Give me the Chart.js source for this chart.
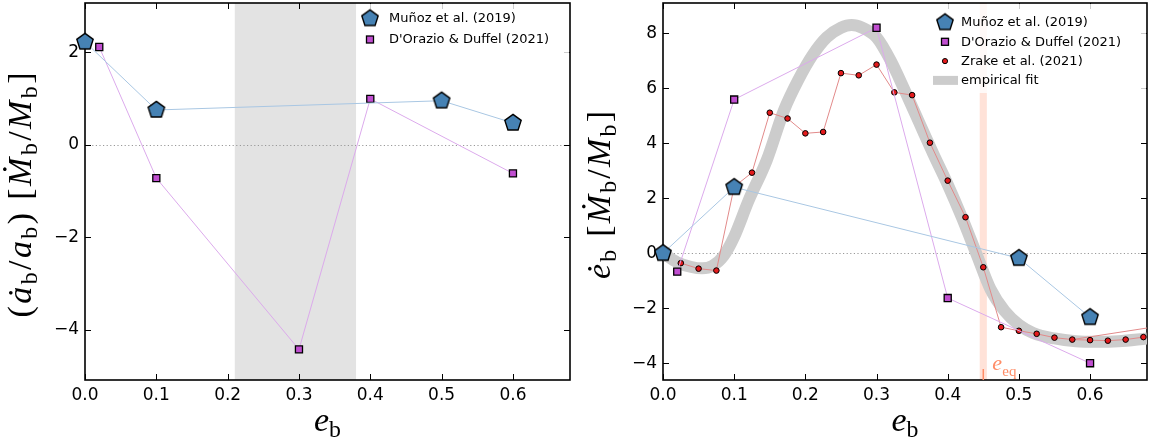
<!DOCTYPE html>
<html>
<head>
<meta charset="utf-8">
<script src="https://cdn.jsdelivr.net/npm/chart.js@4.4.0/dist/chart.umd.min.js"></script>
<style>
  html, body { margin: 0; padding: 0; background: #fff; }
  #wrap { position: relative; width: 1162px; height: 437px; }
  #leftChart { position: absolute; left: 0; top: 0; }
  #rightChart { position: absolute; left: 580px; top: 0; }
</style>
</head>
<body>
<div id="wrap">
  <canvas id="leftChart" width="580" height="437"></canvas>
  <canvas id="rightChart" width="582" height="437"></canvas>
</div>
<script>
// ---- data: left panel (semi-major axis) ----
const munozX_a = [0.0, 0.1, 0.5, 0.6];
const munozY_a = [2.22, 0.75, 0.95, 0.47];
const dorazioX_a = [0.02, 0.1, 0.3, 0.4, 0.6];
const dorazioY_a = [2.11, -0.72, -4.42, 0.99, -0.62];

// ---- data: right panel (eccentricity) ----
const munozX_e = [0.0, 0.1, 0.5, 0.6];
const munozY_e = [0.0, 2.4, -0.18, -2.33];
const dorazioX_e = [0.02, 0.1, 0.3, 0.4, 0.6];
const dorazioY_e = [-0.67, 5.59, 8.2, -1.63, -4.0];
const zrakeX = [0.025, 0.05, 0.075, 0.1, 0.125, 0.15, 0.175, 0.2, 0.225, 0.25, 0.275, 0.3, 0.325, 0.35,
                0.375, 0.4, 0.425, 0.45, 0.475, 0.5, 0.525, 0.55, 0.575, 0.6, 0.625, 0.65, 0.675];
const zrakeY = [-0.36, -0.56, -0.63, 2.42, 2.93, 5.11, 4.90, 4.36, 4.41, 6.55, 6.47, 6.86, 5.85, 5.75,
                4.02, 2.64, 1.31, -0.51, -2.69, -2.82, -2.93, -3.07, -3.14, -3.16, -3.18, -3.14, -3.05];
const zrakeTailX = [0.575, 0.8];
const zrakeTailY = [-3.14, -2.24];
const fitX = [0.0, 0.02, 0.04, 0.055, 0.07, 0.085, 0.1, 0.12, 0.146, 0.17, 0.19, 0.21, 0.23, 0.25, 0.265,
              0.28, 0.3, 0.32, 0.34, 0.36, 0.38, 0.4, 0.42, 0.44, 0.46, 0.48, 0.5, 0.52, 0.55, 0.58, 0.61, 0.64, 0.68];
const fitY = [0.0, -0.33, -0.5, -0.55, -0.45, -0.1, 0.6, 1.9, 3.4, 5.2, 6.3, 7.2, 7.85, 8.2, 8.3,
              8.2, 7.85, 7.0, 5.9, 4.75, 3.6, 2.5, 1.3, 0.0, -1.3, -2.1, -2.6, -2.9, -3.1, -3.2, -3.22, -3.2, -3.1];

const shadeRange = [0.21, 0.38];
const eEq = 0.45;

const pts = (xs, ys) => xs.map((x, i) => ({ x: x, y: ys[i] }));

// pentagon marker as an image
function makePentagon(r) {
  const s = Math.ceil(2 * r + 4);
  const c = document.createElement('canvas');
  c.width = s; c.height = s;
  const g = c.getContext('2d');
  g.beginPath();
  for (let i = 0; i < 5; i++) {
    const a = -Math.PI / 2 + i * 2 * Math.PI / 5;
    const px = s / 2 + r * Math.cos(a), py = s / 2 + r * Math.sin(a);
    if (i === 0) g.moveTo(px, py); else g.lineTo(px, py);
  }
  g.closePath();
  g.fillStyle = '#4682b4';
  g.fill();
  g.lineWidth = 1.4;
  g.strokeStyle = '#000';
  g.stroke();
  return c;
}
const pentagon = makePentagon(8.6);

const BLUE_LINE = '#a9c7e3';
const PURPLE_LINE = '#dcaaec';
const PURPLE = '#c04ed0';
const RED_LINE = '#e28a8a';
const RED = '#e31a1c';
const FIT_GREY = '#cccccc';
const SERIF = '"Liberation Serif", "DejaVu Serif", serif';

// draw a run of math-like text: kind r = roman, i = italic, s = subscript
function drawMath(ctx, runs, size, targetWidth) {
  const fontOf = k => k === 'i' ? `italic ${size}px ${SERIF}` : k === 's' ? `${size * 0.7}px ${SERIF}` : `${size}px ${SERIF}`;
  const widths = runs.map(([t, k]) => { ctx.font = fontOf(k); return ctx.measureText(t).width; });
  const natural = widths.reduce((a, b) => a + b, 0);
  const gap = targetWidth ? (targetWidth - natural) / (runs.length - 1) : 0;
  let x = -(natural + gap * (runs.length - 1)) / 2;
  runs.forEach(([t, k], i) => {
    ctx.font = fontOf(k);
    ctx.fillText(t, x, k === 's' ? size * 0.18 : 0);
    x += widths[i] + gap;
  });
}

const panelPlugin = {
  id: 'panel',
  beforeDatasetsDraw(chart, args, opts) {
    const { ctx, chartArea: a, scales: { x, y } } = chart;
    ctx.save();
    if (opts.shade) {
      const x0 = x.getPixelForValue(opts.shade[0]), x1 = x.getPixelForValue(opts.shade[1]);
      ctx.fillStyle = '#e3e3e3';
      ctx.fillRect(x0, a.top, x1 - x0, a.bottom - a.top);
    }
    if (opts.eq !== undefined) {
      const x0 = x.getPixelForValue(opts.eq - 0.005), x1 = x.getPixelForValue(opts.eq + 0.005);
      ctx.fillStyle = 'rgba(255,150,115,0.28)';
      ctx.fillRect(x0, a.top, x1 - x0, a.bottom - a.top);
    }
    // zero line
    const y0 = Math.round(y.getPixelForValue(0)) + 0.5;
    ctx.strokeStyle = '#999';
    ctx.lineWidth = 1;
    ctx.setLineDash([1.2, 2.4]);
    ctx.beginPath(); ctx.moveTo(a.left, y0); ctx.lineTo(a.right, y0); ctx.stroke();
    ctx.setLineDash([]);
    // frame and inward ticks
    ctx.strokeStyle = '#000';
    ctx.lineWidth = 1.6;
    ctx.strokeRect(a.left, a.top, a.right - a.left, a.bottom - a.top);
    ctx.lineWidth = 1;
    x.ticks.forEach(t => {
      const px = Math.round(x.getPixelForValue(t.value)) + 0.5;
      ctx.beginPath();
      ctx.moveTo(px, a.bottom); ctx.lineTo(px, a.bottom - 6);
      ctx.moveTo(px, a.top); ctx.lineTo(px, a.top + 6);
      ctx.stroke();
    });
    y.ticks.forEach(t => {
      const py = Math.round(y.getPixelForValue(t.value)) + 0.5;
      ctx.beginPath();
      ctx.moveTo(a.left, py); ctx.lineTo(a.left + 6, py);
      ctx.moveTo(a.right, py); ctx.lineTo(a.right - 6, py);
      ctx.stroke();
    });
    ctx.restore();
  },
  afterDatasetsDraw(chart, args, opts) {
    const { ctx, chartArea: a, scales: { x } } = chart;
    ctx.save();
    // e_eq marker
    if (opts.eq !== undefined) {
      const px = x.getPixelForValue(opts.eq);
      ctx.strokeStyle = '#ff8c66';
      ctx.lineWidth = 1.5;
      ctx.beginPath(); ctx.moveTo(px, a.bottom - 11); ctx.lineTo(px, a.bottom); ctx.stroke();
      ctx.fillStyle = '#ff8c66';
      ctx.textBaseline = 'alphabetic';
      ctx.font = `italic 22px ${SERIF}`;
      ctx.fillText('e', px + 9, a.bottom - 10);
      ctx.font = `15px ${SERIF}`;
      ctx.fillText('eq', px + 19, a.bottom - 4);
    }
    // legend
    const L = opts.legend;
    ctx.fillStyle = 'rgba(255,255,255,0.8)';
    ctx.fillRect(a.right - L.boxW, a.top + 1, L.boxW - 1, L.boxH);
    const mx = a.right - L.markerDx, tx = a.right - L.textDx;
    ctx.font = '13px "DejaVu Sans"';
    ctx.textBaseline = 'middle';
    L.items.forEach((item, i) => {
      const yy = a.top + L.firstDy + i * L.rowH;
      if (item.kind === 'pent') {
        ctx.drawImage(pentagon, mx - pentagon.width / 2, yy - pentagon.height / 2);
      } else if (item.kind === 'square') {
        ctx.fillStyle = PURPLE; ctx.strokeStyle = '#000'; ctx.lineWidth = 1.3;
        ctx.fillRect(mx - 3.5, yy - 3.5, 7, 7); ctx.strokeRect(mx - 3.5, yy - 3.5, 7, 7);
      } else if (item.kind === 'dot') {
        ctx.fillStyle = RED; ctx.strokeStyle = '#000'; ctx.lineWidth = 1;
        ctx.beginPath(); ctx.arc(mx, yy, 2.6, 0, 2 * Math.PI); ctx.fill(); ctx.stroke();
      } else if (item.kind === 'band') {
        ctx.fillStyle = FIT_GREY;
        ctx.fillRect(mx - 12, yy - 4.5, 25, 9);
      }
      ctx.fillStyle = '#000';
      ctx.fillText(item.label, tx, yy + 0.5);
    });
    ctx.restore();
  },
  afterDraw(chart, args, opts) {
    const { ctx, chartArea: a } = chart;
    ctx.save();
    ctx.fillStyle = '#000';
    ctx.textBaseline = 'alphabetic';
    // x title
    ctx.translate((a.left + a.right) / 2, 431);
    drawMath(ctx, [['e', 'i'], ['b', 's']], 34, 0);
    ctx.restore();
    ctx.save();
    ctx.fillStyle = '#000';
    ctx.translate(opts.yTitleX, opts.yTitleY);
    ctx.rotate(-Math.PI / 2);
    drawMath(ctx, opts.yTitle, 34, opts.yTitleW);
    ctx.restore();
  }
};

function axisConfig(min, max, step, width) {
  return {
    x: {
      type: 'linear', min: 0, max: 0.68,
      grid: { display: false, drawTicks: false }, border: { display: false },
      ticks: { stepSize: 0.1, includeBounds: false, autoSkip: false, maxRotation: 0, padding: 5,
               color: '#000', font: { family: 'DejaVu Sans', size: 17 },
               callback: v => v.toFixed(1) },
      afterFit: s => { s.height = 57; s.paddingLeft = 0; s.paddingRight = 0; }
    },
    y: {
      type: 'linear', min: min, max: max,
      grid: { display: false, drawTicks: false }, border: { display: false },
      ticks: { stepSize: step, includeBounds: false, autoSkip: false, padding: 6,
               color: '#000', font: { family: 'DejaVu Sans', size: 17 },
               callback: v => String(v).replace('-', '\u2212') },
      afterFit: s => { s.width = width; s.paddingTop = 0; s.paddingBottom = 0; }
    }
  };
}

// Left panel
new Chart(document.getElementById('leftChart'), {
  type: 'scatter',
  data: {
    datasets: [{
      label: 'Muñoz et al. (2019)',
      data: pts(munozX_a, munozY_a),
      showLine: true, borderColor: BLUE_LINE, borderWidth: 1,
      pointStyle: pentagon, pointRadius: 9, clip: false, order: 0
    }, {
      label: "D'Orazio & Duffel (2021)",
      data: pts(dorazioX_a, dorazioY_a),
      showLine: true, borderColor: PURPLE_LINE, borderWidth: 1,
      pointStyle: 'rect', pointRadius: 5, pointBackgroundColor: PURPLE,
      pointBorderColor: '#000', pointBorderWidth: 1.3, clip: false, order: 1
    }]
  },
  options: {
    responsive: false, animation: false, events: [],
    layout: { autoPadding: false, padding: { top: 3, right: 10, left: 0, bottom: 0 } },
    scales: axisConfig(-5.08, 3.06, 2, 85),
    plugins: {
      legend: { display: false }, tooltip: { enabled: false },
      panel: {
        shade: shadeRange,
        legend: { boxW: 212, boxH: 50, markerDx: 200, textDx: 181, firstDy: 15.5, rowH: 21,
                  items: [{ kind: 'pent', label: 'Muñoz et al. (2019)' },
                          { kind: 'square', label: "D'Orazio & Duffel (2021)" }] },
        yTitleX: 31, yTitleY: 195, yTitleW: 245,
        yTitle: [['(', 'r'], ['\u0227', 'i'], ['b', 's'], ['/', 'r'], ['a', 'i'], ['b', 's'], [')', 'r'], [' ', 'r'],
                 ['[', 'r'], ['\u1E40', 'i'], ['b', 's'], ['/', 'r'], ['M', 'i'], ['b', 's'], [']', 'r']]
      }
    }
  },
  plugins: [panelPlugin]
});

// Right panel
new Chart(document.getElementById('rightChart'), {
  type: 'scatter',
  data: {
    datasets: [{
      label: 'Muñoz et al. (2019)',
      data: pts(munozX_e, munozY_e),
      showLine: true, borderColor: BLUE_LINE, borderWidth: 1,
      pointStyle: pentagon, pointRadius: 9, clip: false, order: 0
    }, {
      label: "D'Orazio & Duffel (2021)",
      data: pts(dorazioX_e, dorazioY_e),
      showLine: true, borderColor: PURPLE_LINE, borderWidth: 1,
      pointStyle: 'rect', pointRadius: 5, pointBackgroundColor: PURPLE,
      pointBorderColor: '#000', pointBorderWidth: 1.3, clip: false, order: 1
    }, {
      label: 'Zrake et al. (2021)',
      data: pts(zrakeX, zrakeY),
      showLine: true, borderColor: RED_LINE, borderWidth: 1,
      pointStyle: 'circle', pointRadius: 2.8, pointBackgroundColor: RED,
      pointBorderColor: '#000', pointBorderWidth: 1, clip: false, order: 2
    }, {
      label: 'Zrake tail',
      data: pts(zrakeTailX, zrakeTailY),
      showLine: true, borderColor: RED_LINE, borderWidth: 1,
      pointRadius: 0, clip: 0, order: 3
    }, {
      label: 'empirical fit',
      data: pts(fitX, fitY),
      showLine: true, borderColor: FIT_GREY, borderWidth: 12,
      cubicInterpolationMode: 'monotone', pointRadius: 0, clip: 0, order: 4
    }]
  },
  options: {
    responsive: false, animation: false, events: [],
    layout: { autoPadding: false, padding: { top: 3, right: 15, left: 0, bottom: 0 } },
    scales: axisConfig(-4.61, 9.1, 2, 83),
    plugins: {
      legend: { display: false }, tooltip: { enabled: false },
      panel: {
        eq: eEq,
        legend: { boxW: 216, boxH: 89, markerDx: 202, textDx: 186, firstDy: 19.5, rowH: 19.3,
                  items: [{ kind: 'pent', label: 'Muñoz et al. (2019)' },
                          { kind: 'square', label: "D'Orazio & Duffel (2021)" },
                          { kind: 'dot', label: 'Zrake et al. (2021)' },
                          { kind: 'band', label: 'empirical fit' }] },
        yTitleX: 30, yTitleY: 195, yTitleW: 168,
        yTitle: [['\u0117', 'i'], ['b', 's'], [' ', 'r'],
                 ['[', 'r'], ['\u1E40', 'i'], ['b', 's'], ['/', 'r'], ['M', 'i'], ['b', 's'], [']', 'r']]
      }
    }
  },
  plugins: [panelPlugin]
});
</script>
</body>
</html>
